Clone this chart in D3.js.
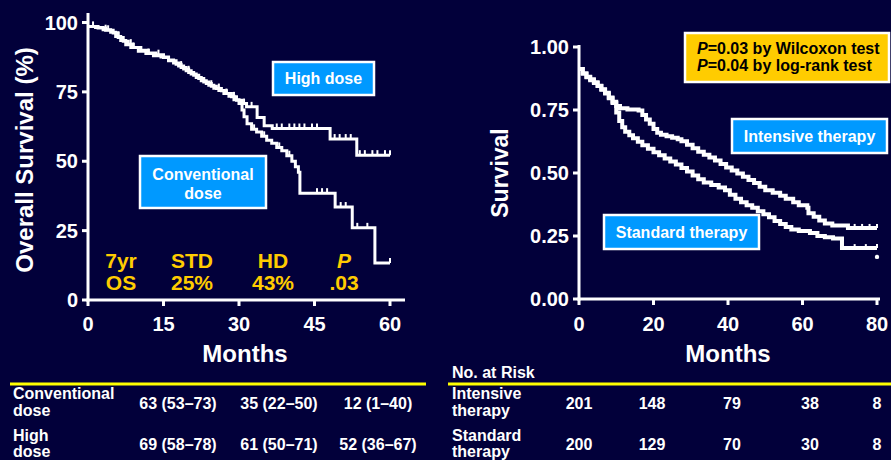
<!DOCTYPE html>
<html>
<head>
<meta charset="utf-8">
<script src="https://cdn.jsdelivr.net/npm/d3@7"></script>
<style>
  html, body { margin: 0; padding: 0; background: #02003a; }
  svg { display: block; }
  text { font-family: Arial, "Liberation Sans", Helvetica, sans-serif; font-weight: bold; }
</style>
</head>
<body>
<svg id="chart" width="891" height="460"></svg>
<script>
// ---------- Left panel: overall survival (%) by dose ----------
const leftXTicks = [0, 15, 30, 45, 60];
const leftYTicks = [0, 25, 50, 75, 100];
const conventionalSteps = [
  [0, 98.6], [1.5, 98.2], [3, 97.4], [4.5, 96.5], [5.5, 95], [6.5, 93.5], [7.5, 92], [8.5, 91],
  [10, 89.6], [11.5, 88.8], [13, 88], [14.5, 87.6], [16, 86.5], [17, 85.4], [18, 84.3], [19, 83.2],
  [20, 82], [21, 81], [22, 79.8], [23, 78.6], [24, 77.4], [25, 76.3], [26, 75.5], [27, 74.4],
  [28, 73.4], [29, 72.2], [30, 70.8], [30.6, 68.5], [31, 66], [31.6, 63.5], [32.5, 61.5],
  [33.5, 60.5], [34.5, 59], [35.5, 57.6], [36.5, 56.5], [37.5, 55], [38.5, 53.8], [39.5, 52],
  [40.5, 50], [41.2, 48], [41.8, 46], [42.1, 38.5], [49.1, 33.5], [52.5, 26], [57, 13.3], [60, 13.3]
];
const conventionalCensored = [
  [3.5, 97.4], [6, 95], [9, 91], [12, 88.8], [18.5, 84.3], [24.5, 77.4], [27.5, 74.4],
  [33, 61.5], [35, 59], [38, 55], [40, 52],
  [45.5, 38.5], [46.5, 38.5], [47.5, 38.5], [50.2, 33.5], [51.2, 33.5], [53.5, 26], [55.5, 26], [60, 13.3]
];
const highDoseSteps = [
  [0, 98.6], [2, 98], [3.5, 97.2], [5, 96.2], [6, 94.6], [7, 93.2], [8, 92.2], [9, 91],
  [10.5, 90], [12, 89], [13.5, 88.4], [15, 87.4], [16, 86.2], [17.5, 85], [18.5, 83.8],
  [19.5, 82.6], [20.5, 81.4], [21.5, 80.2], [22.5, 79], [23.5, 78], [24.5, 77], [25.5, 76.2],
  [26.5, 75.4], [27.5, 74.4], [28.5, 73.2], [29.5, 72], [30.5, 70.8], [31.5, 69.6], [33.6, 65.8],
  [35, 62.8], [36.6, 61.8], [48.1, 58], [53.4, 52.2], [60, 52.2]
];
const highDoseCensored = [
  [1, 98.6], [4, 97.2], [8.5, 92.2], [14, 88.4], [20, 82.6], [26, 76.2], [29, 73.2], [31, 70.8], [32.5, 69.6],
  [37.5, 61.8], [38.5, 61.8], [40, 61.8], [41, 61.8], [42, 61.8], [43, 61.8], [44.5, 61.8], [45.5, 61.8],
  [49, 58], [50, 58], [51.2, 58], [52.2, 58],
  [54, 52.2], [55, 52.2], [56.5, 52.2], [57.5, 52.2], [59, 52.2], [60, 52.2]
];
const osHeaders = ["7yr", "STD", "HD", "P"];
const osValues = ["OS", "25%", "43%", ".03"];

// ---------- Right panel: survival by therapy ----------
const rightXTicks = [0, 20, 40, 60, 80];
const rightYTicks = [0, 0.25, 0.5, 0.75, 1.0];
const intensiveSteps = [
  [0, 0.913], [1, 0.895], [2, 0.882], [3, 0.872], [4, 0.86], [5, 0.846], [6, 0.832], [7, 0.818],
  [8, 0.8], [9, 0.783], [10, 0.766], [11, 0.757], [13, 0.752], [16, 0.748], [17, 0.73], [18, 0.712],
  [19, 0.695], [20, 0.675], [21, 0.66], [22, 0.652], [23.5, 0.646], [25, 0.64], [26.5, 0.634], [27.5, 0.626],
  [29, 0.612], [30.5, 0.598], [32, 0.584], [33.5, 0.572], [35, 0.562], [36.5, 0.55], [38, 0.536],
  [39.5, 0.522], [41, 0.51], [42.5, 0.498], [44, 0.485], [45.5, 0.472], [47, 0.46], [48.5, 0.445],
  [50, 0.432], [52, 0.422], [54, 0.41], [55.5, 0.398], [57.5, 0.384], [59, 0.372], [61.3, 0.362],
  [61.6, 0.34], [63, 0.326], [64.5, 0.312], [66, 0.3], [68, 0.292], [72.2, 0.282], [80, 0.282]
];
const intensiveCensored = [[74, 0.282], [76, 0.282], [78, 0.282], [80, 0.282]];
const standardSteps = [
  [0, 0.913], [1, 0.895], [2, 0.88], [3, 0.868], [4, 0.857], [5, 0.845], [6, 0.83], [7, 0.815],
  [8, 0.797], [9, 0.778], [10, 0.74], [10.8, 0.706], [11.6, 0.682], [12.4, 0.664], [13.5, 0.65],
  [14.5, 0.638], [15.8, 0.624], [17, 0.61], [18.5, 0.596], [20, 0.582], [21.5, 0.57], [23, 0.558],
  [24.5, 0.546], [26, 0.534], [27.5, 0.52], [29, 0.506], [30.5, 0.49], [32, 0.475], [33.5, 0.462],
  [35.5, 0.452], [37.5, 0.442], [39.2, 0.432], [40.5, 0.414], [42, 0.398], [43.5, 0.384], [45, 0.372],
  [46.5, 0.362], [48, 0.348], [49.5, 0.336], [51, 0.324], [52.5, 0.31], [54, 0.298], [55.5, 0.286],
  [57, 0.276], [59, 0.27], [62, 0.262], [64, 0.25], [66, 0.245], [68.2, 0.24], [70.6, 0.202], [80, 0.202]
];
const standardCensored = [[74, 0.202], [77, 0.202], [80, 0.202]];
const standardLastPoint = [80, 0.167];
const testLines = [["P", "=0.03 by Wilcoxon test"], ["P", "=0.04 by log-rank test"]];

// ---------- Tables ----------
const doseRows = ["Conventional\ndose", "High\ndose"];
const doseEstimates = [
  ["63 (53–73)", "35 (22–50)", "12 (1–40)"],
  ["69 (58–78)", "61 (50–71)", "52 (36–67)"]
];
const riskRows = ["Intensive\ntherapy", "Standard\ntherapy"];
const riskCounts = [
  [201, 148, 79, 38, 8],
  [200, 129, 70, 30, 8]
];

const WHITE = "#ffffff", GOLD = "#ffcc00", LINE_YELLOW = "#ffff00", BOX_BLUE = "#0099ff";
const svg = d3.select("#chart");
svg.append("rect").attr("width", 891).attr("height", 460).attr("fill", "#02003a");

function drawAxes(g, x, y, xTicks, yTicks, yFmt, yTop, xRight) {
  const [x0] = x.range();
  const y0 = y.range()[0];
  // axis lines
  g.append("line").attr("x1", x0).attr("x2", x0).attr("y1", yTop).attr("y2", y0 + 1.5)
    .attr("stroke", WHITE).attr("stroke-width", 3);
  g.append("line").attr("x1", x0 - 1.5).attr("x2", xRight).attr("y1", y0).attr("y2", y0)
    .attr("stroke", WHITE).attr("stroke-width", 3);
  // y ticks
  yTicks.forEach(v => {
    g.append("line").attr("x1", x0 - 6).attr("x2", x0).attr("y1", y(v)).attr("y2", y(v))
      .attr("stroke", WHITE).attr("stroke-width", 3);
    g.append("text").attr("x", x0 - 10).attr("y", y(v)).attr("dy", "0.36em")
      .attr("text-anchor", "end").attr("fill", WHITE).attr("font-size", 20).text(yFmt(v));
  });
  // x ticks
  xTicks.forEach(v => {
    g.append("line").attr("x1", x(v)).attr("x2", x(v)).attr("y1", y0).attr("y2", y0 + 6)
      .attr("stroke", WHITE).attr("stroke-width", 3);
    g.append("text").attr("x", x(v)).attr("y", 331)
      .attr("text-anchor", "middle").attr("fill", WHITE).attr("font-size", 20).text(v);
  });
}

function drawCurve(g, x, y, steps, width) {
  const line = d3.line().x(d => x(d[0])).y(d => y(d[1])).curve(d3.curveStepAfter);
  g.append("path").attr("d", line(steps)).attr("fill", "none")
    .attr("stroke", WHITE).attr("stroke-width", width).attr("stroke-linejoin", "miter");
}

function drawCensor(g, x, y, pts, len) {
  g.selectAll(null).data(pts).enter().append("line")
    .attr("x1", d => x(d[0])).attr("x2", d => x(d[0]))
    .attr("y1", d => y(d[1])).attr("y2", d => y(d[1]) - len)
    .attr("stroke", WHITE).attr("stroke-width", 2);
}

function labelBox(g, x0, y0, w, h, lines, fontSize, firstBaseline, lineGap) {
  g.append("rect").attr("x", x0).attr("y", y0).attr("width", w).attr("height", h)
    .attr("fill", BOX_BLUE).attr("stroke", WHITE).attr("stroke-width", 2.5);
  lines.forEach((t, i) => {
    g.append("text").attr("x", x0 + w / 2).attr("y", firstBaseline + i * lineGap)
      .attr("text-anchor", "middle").attr("fill", WHITE).attr("font-size", fontSize).text(t);
  });
}

// ----- Left chart -----
const left = svg.append("g");
const xL = d3.scaleLinear().domain([0, 60]).range([88, 390]);
const yL = d3.scaleLinear().domain([0, 100]).range([300, 22.5]);
drawAxes(left, xL, yL, leftXTicks, leftYTicks, d => d, 13, 405);
drawCurve(left, xL, yL, conventionalSteps, 3);
drawCurve(left, xL, yL, highDoseSteps, 3);
drawCensor(left, xL, yL, conventionalCensored, 5);
drawCensor(left, xL, yL, highDoseCensored, 5);

left.append("text").attr("transform", "translate(33,160) rotate(-90)")
  .attr("text-anchor", "middle").attr("fill", WHITE).attr("font-size", 24).text("Overall Survival (%)");
left.append("text").attr("x", 245).attr("y", 362)
  .attr("text-anchor", "middle").attr("fill", WHITE).attr("font-size", 24).text("Months");

labelBox(left, 273, 62, 101, 33, ["High dose"], 16, 84, 0);
labelBox(left, 140, 156, 126, 52, ["Conventional", "dose"], 16, 180, 18.5);

const osCols = [121, 192, 273, 344];
osHeaders.forEach((t, i) => {
  left.append("text").attr("x", osCols[i]).attr("y", 268).attr("text-anchor", "middle")
    .attr("fill", GOLD).attr("font-size", 21).attr("font-style", t === "P" ? "italic" : "normal").text(t);
  left.append("text").attr("x", osCols[i]).attr("y", 290).attr("text-anchor", "middle")
    .attr("fill", GOLD).attr("font-size", 21).text(osValues[i]);
});

// ----- Right chart -----
const right = svg.append("g");
const xR = d3.scaleLinear().domain([0, 80]).range([579, 877]);
const yR = d3.scaleLinear().domain([0, 1]).range([299, 47]);
drawAxes(right, xR, yR, rightXTicks, rightYTicks, d => d.toFixed(2), 45, 880);
drawCurve(right, xR, yR, intensiveSteps, 4);
drawCurve(right, xR, yR, standardSteps, 4);
drawCensor(right, xR, yR, intensiveCensored, 4);
drawCensor(right, xR, yR, standardCensored, 4);
right.append("circle").attr("cx", xR(standardLastPoint[0])).attr("cy", yR(standardLastPoint[1]))
  .attr("r", 2.2).attr("fill", WHITE);

right.append("text").attr("transform", "translate(508,173) rotate(-90)")
  .attr("text-anchor", "middle").attr("fill", WHITE).attr("font-size", 23).text("Survival");
right.append("text").attr("x", 728).attr("y", 362)
  .attr("text-anchor", "middle").attr("fill", WHITE).attr("font-size", 24).text("Months");

// statistical test box
right.append("rect").attr("x", 685).attr("y", 33).attr("width", 204).attr("height", 49)
  .attr("fill", GOLD).attr("stroke", WHITE).attr("stroke-width", 2.5);
testLines.forEach((ln, i) => {
  const t = right.append("text").attr("x", 697).attr("y", 54 + i * 17)
    .attr("fill", "#000000").attr("font-size", 16);
  t.append("tspan").attr("font-style", "italic").text(ln[0]);
  t.append("tspan").text(ln[1]);
});

labelBox(right, 732, 119, 155, 34, ["Intensive therapy"], 16, 142, 0);
labelBox(right, 604, 215, 155, 34, ["Standard therapy"], 16, 238, 0);

// ----- Tables -----
const tables = svg.append("g");
tables.append("line").attr("x1", 10).attr("x2", 426).attr("y1", 384).attr("y2", 384)
  .attr("stroke", LINE_YELLOW).attr("stroke-width", 3);
tables.append("line").attr("x1", 448).attr("x2", 891).attr("y1", 384).attr("y2", 384)
  .attr("stroke", LINE_YELLOW).attr("stroke-width", 3);

const rowBaselines = [[399, 416], [441, 457]];
const valueBaselines = [409, 450];
const TABLE_FONT = 16;

doseRows.forEach((r, i) => {
  r.split("\n").forEach((w, j) => {
    tables.append("text").attr("x", 13).attr("y", rowBaselines[i][j]).attr("fill", WHITE)
      .attr("font-size", TABLE_FONT).text(w);
  });
});
const doseCols = [178, 279, 378];
doseEstimates.forEach((row, i) => row.forEach((v, j) => {
  tables.append("text").attr("x", doseCols[j]).attr("y", valueBaselines[i]).attr("text-anchor", "middle")
    .attr("fill", WHITE).attr("font-size", TABLE_FONT).text(v);
}));

tables.append("text").attr("x", 452).attr("y", 378).attr("fill", WHITE).attr("font-size", TABLE_FONT).text("No. at Risk");
riskRows.forEach((r, i) => {
  r.split("\n").forEach((w, j) => {
    tables.append("text").attr("x", 452).attr("y", rowBaselines[i][j]).attr("fill", WHITE)
      .attr("font-size", TABLE_FONT).text(w);
  });
});
const riskCols = [579, 652, 732, 810, 877];
riskCounts.forEach((row, i) => row.forEach((v, j) => {
  tables.append("text").attr("x", riskCols[j]).attr("y", valueBaselines[i]).attr("text-anchor", "middle")
    .attr("fill", WHITE).attr("font-size", TABLE_FONT).text(v);
}));
</script>
</body>
</html>
